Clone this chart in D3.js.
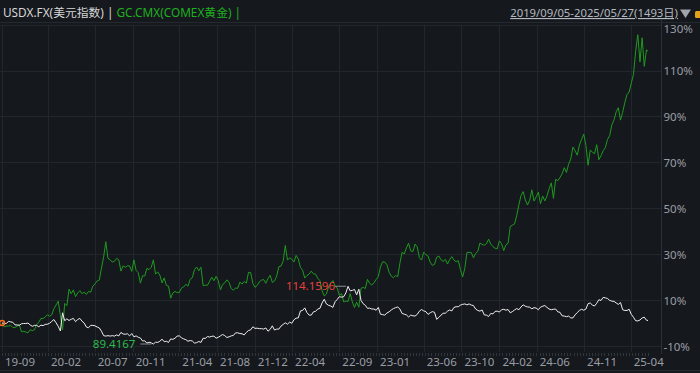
<!DOCTYPE html>
<html><head><meta charset="utf-8">
<script src="https://cdn.jsdelivr.net/npm/d3@7"></script>
<style>
html,body{margin:0;padding:0;background:#15181d;overflow:hidden;}
svg{display:block;}
text{font-family:"Noto Sans","Noto Sans CJK SC",sans-serif;}
</style></head><body>
<svg id="chart" width="700" height="373"></svg>
<script>
// ---- data (weekly samples, Thursday closes, last point = 2025-05-27) ----
const startDate = "2019-09-05";
const endDate = "2025-05-27";

const usdxValues = [
 98.4,98.3,98.2,99.1,98.9,98.7,97.6,97.6,97.4,98.1,98.2,98.2,98.4,97.6,97.0,97.4,97.4,
 96.8,97.5,97.3,97.8,97.9, 98.3,99.1,99.9,98.5, 97.0,95.0,102.8,99.4, 100.2,99.5,100.0,100.4,99.0,
 99.9,100.4,99.2,98.4, 96.7,96.4,97.4,97.4, 97.2,96.7,96.3,94.9,93.0, 92.8,93.0,92.8,93.0,
 92.8,93.3,92.9,94.4, 93.7,93.6,93.8,92.9,93.9, 92.5,92.9,92.3,92.0, 90.7,90.8,89.8,90.2,89.9,
 89.4167,90.2,90.1,90.6, 91.5,90.4,90.6,90.1, 91.6,91.4,91.9,92.8, 92.9,92.1,91.6,91.3,90.6,
 90.9,90.7,89.8,90.0, 90.5,90.1,91.9,91.8, 92.6,92.4,92.7,92.8,91.9, 92.3,92.9,93.5,93.0,
 92.2,92.5,92.9,93.1,94.2, 94.2,93.9,93.8,93.3, 94.4,95.2,95.5,96.8, 96.1,96.2,96.0,96.0,95.8,
 96.3,94.9,95.7,97.2, 95.4,95.8,95.8,97.1, 97.8,98.5,97.9,98.8,98.3, 99.8,100.5,100.6,103.6,
 103.8,104.9,102.9,101.8, 101.8,103.2,103.4,104.4,104.7, 107.0,108.6,106.6,106.0, 105.7,105.1,107.5,108.5,
 109.7,109.5,109.7,111.3,114.1596, 112.2,112.4,112.8,110.5, 112.9,108.1,106.7,106.0, 104.7,104.8,104.4,104.4,103.9,
 105.1,102.2,102.0,101.8, 102.7,103.2,104.0,104.6, 105.0,105.3,104.4,102.5,102.2, 101.9,101.0,101.8,101.5,
 101.4,102.1,103.5,104.2, 103.6,103.3,102.1,102.8,103.3, 103.0,100.0,100.8,101.8, 102.6,102.6,103.5,104.0,103.6,
 105.1,105.4,105.4,106.1, 106.4,106.6,106.2,106.6, 106.1,105.9,104.4,103.8,103.5, 104.0,101.9,101.8,101.2,
 102.5,102.3,103.4,103.5, 103.1,104.1,104.3,103.9,104.2, 102.8,103.3,104.0,104.6, 104.1,105.3,106.2,105.6,
 105.3,105.2,104.5,105.0,104.8, 104.1,105.2,105.6,105.9, 105.1,104.4,104.1,104.3, 104.4,103.2,103.0,101.5,101.4,
 101.1,101.4,100.6,100.6, 101.9,102.9,103.8,104.3,103.9, 104.4,106.7,107.0,106.1, 105.7,106.9,108.4,108.1,
 109.4,109.2,108.9,108.1,107.8, 107.7,107.0,106.4,107.2, 104.1,103.8,103.8,104.3, 102.1,100.9,99.4,99.3,
 99.7,100.6,100.9,99.6, 99.5
];

const goldValues = [
 1525,1500,1505,1505,1510,1495,1495,1505,1515,1467,1470,1465,1460,1480,1475,1480,1515,
 1530,1555,1555,1565,1580, 1570,1580,1620,1645, 1670,1575,1480,1655, 1640,1750,1720,1745,1700,
 1725,1740,1720,1730, 1715,1735,1730,1770, 1785,1805,1810,1890,1965, 2065,1955,1945,1930,
 1935,1955,1945,1870, 1905,1895,1905,1905,1868, 1945,1875,1860,1790, 1840,1837,1888,1880,1895,
 1945,1850,1865,1842, 1792,1825,1775,1770, 1690,1725,1735,1727, 1728,1757,1765,1782,1770,
 1815,1826,1880,1897, 1872,1896,1774,1776, 1776,1803,1829,1806,1835, 1807,1745,1781,1792,
 1812,1795,1754,1743,1757, 1756,1797,1784,1801, 1791,1862,1860,1788, 1762,1775,1799,1810,1814,
 1789,1821,1842,1795, 1804,1836,1899,1903, 1936,2040,1943,1958,1949, 1931,1974,1951,1894,
 1876,1824,1841,1850, 1870,1852,1850,1822,1807, 1740,1705,1718,1766, 1791,1807,1771,1758,
 1709,1721,1665,1671,1668, 1720,1666,1628,1664, 1630,1755,1762,1754, 1815,1789,1777,1792,1815,
 1833,1898,1932,1930, 1912,1862,1837,1826, 1840,1834,1923,1995,1984, 2025,2055,2005,1999,
 2050,2031,1960,1943, 1995,1979,1970,1929,1908, 1915,1962,1970,1945, 1934,1948,1917,1946,1966,
 1943,1932,1940,1880, 1831,1888,1994,1995, 1993,1958,1988,2000,2057, 2047,2042,2052,2082,
 2050,2033,2022,2018, 2071,2053,2006,2044,2054, 2166,2175,2183,2238, 2310,2372,2398,2342,
 2309,2340,2410,2335,2363, 2394,2318,2369,2336, 2369,2417,2456,2353, 2480,2470,2492,2517,2557,
 2525,2580,2614,2694, 2670,2640,2707,2746,2780, 2706,2573,2674,2660, 2650,2710,2610,2637,
 2670,2690,2745,2770,2842, 2875,2928,2955,2873, 2925,2990,3043,3060, 3120,3175,3330,3440,
 3260,3420,3230,3340, 3330
];

const xTickLabels = ["19-09","20-02","20-07","20-11","21-04","21-08","21-12","22-04","22-09",
                     "23-01","23-06","23-10","24-02","24-06","24-11","25-04"];
const yTickValues = [130,110,90,70,50,30,10,-10];
const legendUsdx = "USDX.FX(美元指数) | ";
const legendGold = "GC.CMX(COMEX黄金) |";
const rangeLabel = "2019/09/05-2025/05/27(1493日)";

// ---- drawing ----
const svg = d3.select("#chart");
const W = 700, H = 373;
const parse = d3.timeParse("%Y-%m-%d");
const t0 = parse(startDate), t1 = parse(endDate);
const n = usdxValues.length;
const dates = d3.range(n).map(i => i === n - 1 ? t1 : d3.timeDay.offset(t0, 7 * i));
const toPct = arr => arr.map(v => (v / arr[0] - 1) * 100);
const usdxPct = toPct(usdxValues), goldPct = toPct(goldValues);

const plotTop = 24.6, plotBottom = 352, axisX = 661;
const x = d3.scaleTime().domain([t0, t1]).range([2, 648]);
const y = d3.scaleLinear().domain([-10, 130]).range([346, plotTop]);

svg.append("rect").attr("width", W).attr("height", H).attr("fill", "#15181d");

const tickParse = d3.timeParse("%y-%m");
const xTicks = xTickLabels.map(l => { const d = tickParse(l); return d < t0 ? t0 : d; });

// grid
const grid = svg.append("g");
grid.selectAll(".hg").data(yTickValues).join("line")
  .attr("x1", 0).attr("x2", axisX)
  .attr("y1", d => Math.round(y(d)) + 0.5).attr("y2", d => Math.round(y(d)) + 0.5)
  .attr("stroke", "#22262d").attr("stroke-width", 1);
grid.selectAll(".vg").data(xTicks).join("line")
  .attr("x1", d => Math.round(x(d)) + 0.5).attr("x2", d => Math.round(x(d)) + 0.5)
  .attr("y1", plotTop).attr("y2", plotBottom)
  .attr("stroke", "#22262d").attr("stroke-width", 1);

// header line
svg.append("line").attr("x1", 0).attr("x2", W).attr("y1", 22.5).attr("y2", 22.5)
  .attr("stroke", "#24282f");

// right axis
const yAxis = d3.axisRight(y).tickValues(yTickValues).tickSize(0).tickFormat(d => d + "%");
const ya = svg.append("g").attr("transform", `translate(${axisX + 0.5},0)`).call(yAxis);
ya.select(".domain").attr("d", `M0,${20}V${plotBottom + 2}`).attr("stroke", "#2c3038");
ya.selectAll("text").attr("x", 2).attr("fill", "#9a9ea6").attr("font-size", 11.5)
  .attr("dy", "0.35em")
  .attr("transform", d => { const yy = y(d); return yy < 28 ? `translate(0,${28 - yy})` : null; });

// bottom axis: minor ruler ticks + labels
const minorTicks = d3.range(0, d3.timeDay.count(t0, t1) + 1, 10).map(k => d3.timeDay.offset(t0, k));
svg.append("g").selectAll("line").data(minorTicks).join("line")
  .attr("x1", d => Math.round(x(d)) + 0.5).attr("x2", d => Math.round(x(d)) + 0.5)
  .attr("y1", 353).attr("y2", 356).attr("stroke", "#30343b");
const xAxis = d3.axisBottom(x).tickValues(xTicks).tickSize(0).tickFormat((d, i) => xTickLabels[i]);
const xa = svg.append("g").attr("transform", `translate(0,${356})`).call(xAxis);
xa.select(".domain").remove();
xa.selectAll("text").attr("text-anchor", "start").attr("x", 2.5).attr("y", 2).attr("dy", "0.71em")
  .attr("fill", "#9a9ea6").attr("font-size", 11.5);
svg.append("line").attr("x1", 0).attr("x2", W).attr("y1", 370.5).attr("y2", 370.5).attr("stroke", "#262a31");

// lines
const line = vals => d3.line().x((d, i) => x(dates[i])).y(d => y(d))(vals);
svg.append("path").attr("d", line(goldPct)).attr("fill", "none")
  .attr("stroke", "#1f9a1f").attr("stroke-width", 1).attr("stroke-linejoin", "round");
svg.append("path").attr("d", line(usdxPct)).attr("fill", "none")
  .attr("stroke", "#eeeeee").attr("stroke-width", 1).attr("stroke-linejoin", "round");

// start marker
svg.append("circle").attr("cx", x(dates[0])).attr("cy", y(0)).attr("r", 2.5)
  .attr("fill", "none").attr("stroke", "#ff6a1a").attr("stroke-width", 1.5);

// max / min annotations on USDX
const iMax = d3.maxIndex(usdxValues), iMin = d3.minIndex(usdxValues);
function annotate(i, color, gap) {
  const px = x(dates[i]), py = y(usdxPct[i]);
  svg.append("line").attr("x1", px - 13).attr("x2", px - 2).attr("y1", py).attr("y2", py)
    .attr("stroke", "#8a8d93").attr("stroke-width", 1);
  svg.append("text").attr("x", px - 13 - gap).attr("y", py).attr("dy", "0.36em")
    .attr("text-anchor", "end").attr("font-size", 11.5).attr("fill", color)
    .text(d3.format(".4f")(usdxValues[i]));
}
annotate(iMax, "#e5403c", 0);
annotate(iMin, "#2db84b", 5);

// legend
const lg = svg.append("text").attr("x", 3).attr("y", 17).attr("font-size", 11.8);
lg.append("tspan").attr("fill", "#d6d6d6").text(legendUsdx);
lg.append("tspan").attr("fill", "#1fb01f").text(legendGold);

// range selector
svg.append("text").attr("x", 678).attr("y", 17).attr("text-anchor", "end")
  .attr("font-size", 11.3).attr("fill", "#b4b8bf").attr("text-decoration", "underline")
  .text(rangeLabel);
svg.append("path").attr("d", "M680,9.5H691L685.5,18Z").attr("fill", "#a0a4ab");
svg.append("rect").attr("x", 695).attr("y", 11).attr("width", 8).attr("height", 7).attr("rx", 1.5)
  .attr("fill", "#e2a21c");
</script>
</body></html>
